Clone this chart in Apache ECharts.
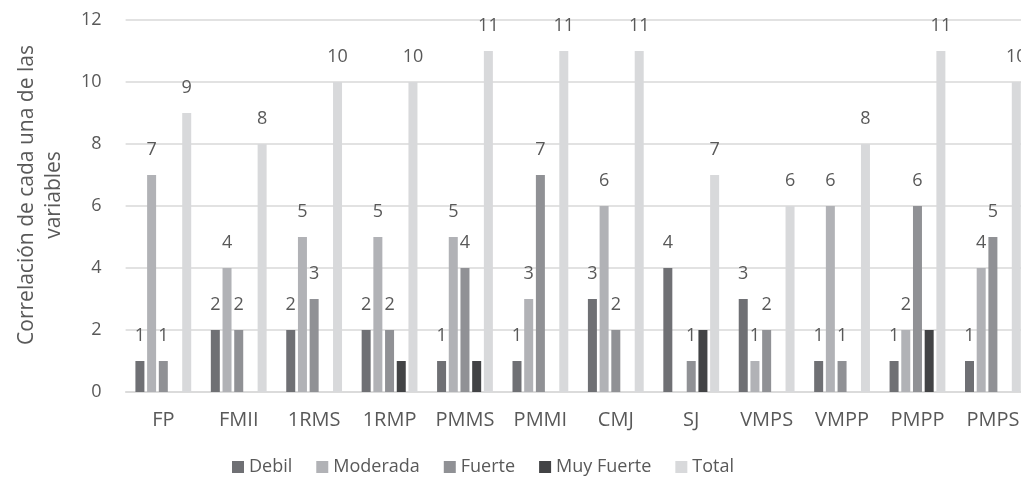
<!DOCTYPE html>
<html>
<head>
<meta charset="utf-8">
<script src="https://cdn.jsdelivr.net/npm/echarts@6/dist/echarts.min.js"></script>
<style>
  html, body { margin: 0; padding: 0; background: #ffffff; overflow: hidden; }
  /* the plot runs slightly past the right edge of the page, so the last column is cut */
  #chart { width: 1035px; height: 487px; }
</style>
</head>
<body>
<div id="chart"></div>
<script>
// Pruebas evaluadas
const categories = ['FP', 'FMII', '1RMS', '1RMP', 'PMMS', 'PMMI', 'CMJ', 'SJ', 'VMPS', 'VMPP', 'PMPP', 'PMPS'];

// Número de correlaciones por nivel
const debil      = [1, 2, 2, 2, 1, 1, 3, 4, 3, 1, 1, 1];
const moderada   = [7, 4, 5, 5, 5, 3, 6, 0, 1, 6, 2, 4];
const fuerte     = [1, 2, 3, 2, 4, 7, 2, 1, 2, 1, 6, 5];
const muyFuerte  = [0, 0, 0, 1, 1, 0, 0, 2, 0, 0, 2, 0];
const total      = [9, 8, 10, 10, 11, 11, 11, 7, 6, 8, 11, 10];

const yTicks = { min: 0, max: 12, interval: 2 };

const FONT = "'Open Sans', sans-serif";
const TEXT = '#595959';

function barSeries(name, data, color, withLabel) {
  return {
    name: name,
    type: 'bar',
    data: data,
    barWidth: 9,
    barGap: '30%',
    itemStyle: { color: color },
    label: {
      show: withLabel,
      position: 'top',
      distance: 16,
      color: TEXT,
      fontFamily: FONT,
      fontSize: 18,
      formatter: p => (p.value ? String(p.value) : '')
    }
  };
}

const chart = echarts.init(document.getElementById('chart'), null, { renderer: 'canvas' });

chart.setOption({
  animation: false,
  textStyle: { fontFamily: FONT },
  grid: { left: 125.6, top: 20, width: 905, height: 372, containLabel: false },
  legend: {
    left: 227,
    top: 453,
    itemWidth: 12,
    itemHeight: 12,
    itemGap: 24,
    icon: 'rect',
    textStyle: { color: TEXT, fontSize: 18, fontFamily: FONT },
    data: ['Debil', 'Moderada', 'Fuerte', 'Muy Fuerte', 'Total']
  },
  xAxis: {
    type: 'category',
    data: categories,
    axisLine: { lineStyle: { color: '#d9d9d9', width: 1.5 } },
    axisTick: { show: false },
    axisLabel: { color: TEXT, fontSize: 20, fontFamily: FONT, margin: 18, interval: 0 }
  },
  yAxis: {
    type: 'value',
    min: yTicks.min,
    max: yTicks.max,
    interval: yTicks.interval,
    axisLine: { show: false },
    axisTick: { show: false },
    axisLabel: { color: TEXT, fontSize: 18, fontFamily: FONT, margin: 24 },
    splitLine: { lineStyle: { color: '#d9d9d9', width: 1.5 } }
  },
  graphic: [{
    type: 'text',
    x: 41,
    y: 195,
    rotation: Math.PI / 2,
    style: {
      text: 'Correlación de cada una de las\nvariables',
      fill: TEXT,
      font: "21px 'Open Sans', sans-serif",
      align: 'center',
      verticalAlign: 'middle',
      lineHeight: 27
    }
  }],
  series: [
    barSeries('Debil', debil, '#6f7074', true),
    barSeries('Moderada', moderada, '#b1b2b6', true),
    barSeries('Fuerte', fuerte, '#909195', true),
    barSeries('Muy Fuerte', muyFuerte, '#424345', false),
    barSeries('Total', total, '#d8d9db', true)
  ]
});
</script>
</body>
</html>
